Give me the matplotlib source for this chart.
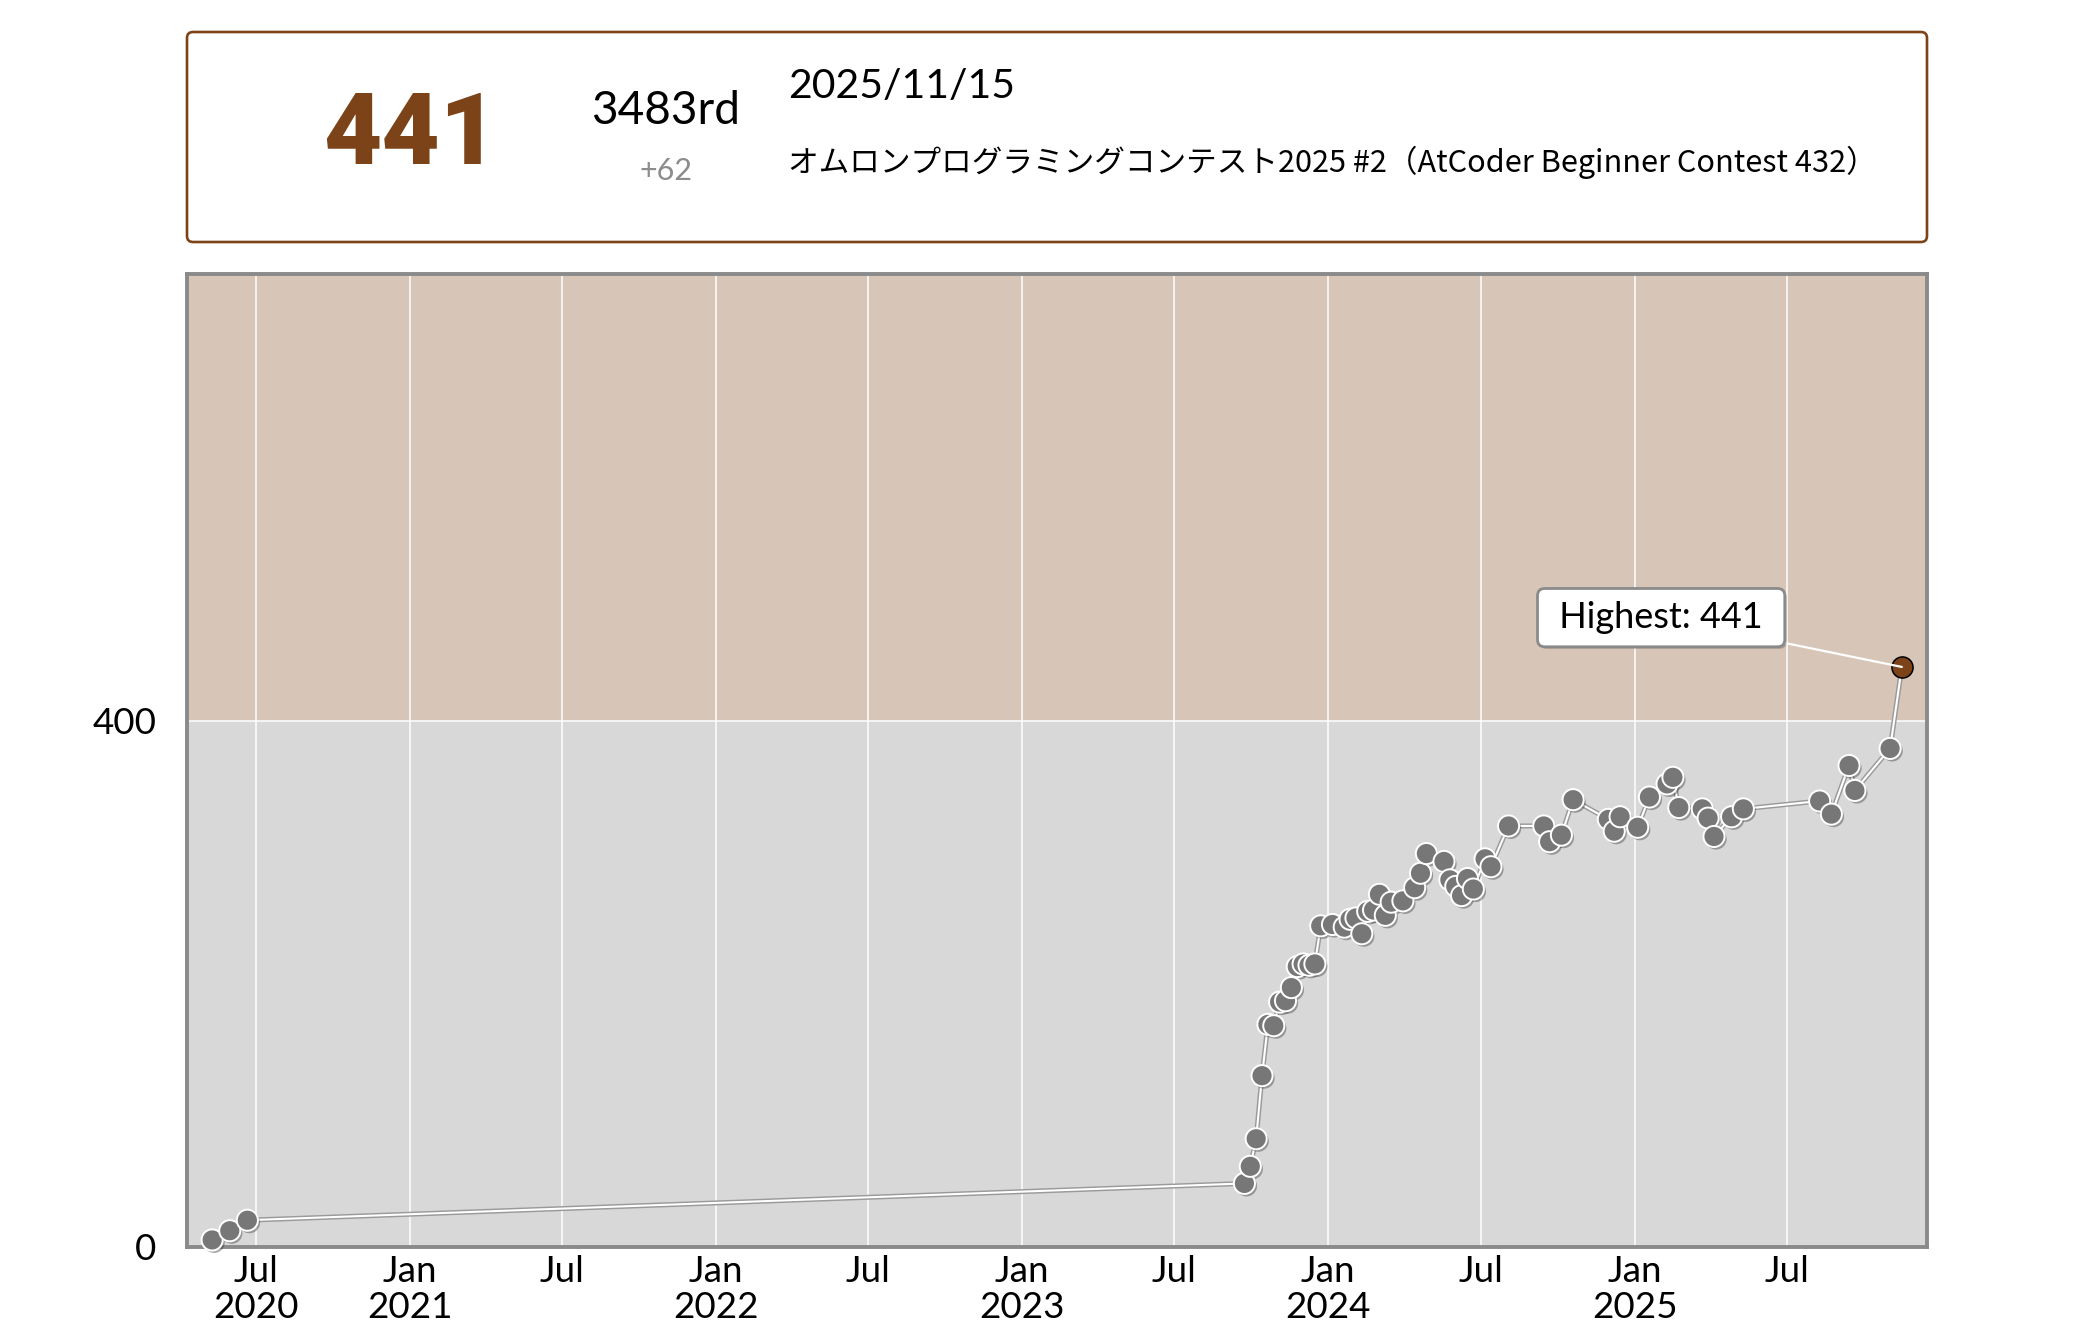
import matplotlib
matplotlib.use('Agg')
import matplotlib.pyplot as plt
import matplotlib.patheffects as pe
from matplotlib.patches import FancyBboxPatch
from matplotlib.transforms import IdentityTransform
import datetime as dt

# ---------------- data ----------------
contest_dates = [
    '2020-05-10', '2020-05-31', '2020-06-21',
    '2023-09-23', '2023-09-30', '2023-10-07', '2023-10-14', '2023-10-21', '2023-10-28',
    '2023-11-04', '2023-11-11', '2023-11-18', '2023-11-25', '2023-12-02', '2023-12-09',
    '2023-12-16', '2023-12-23', '2024-01-06', '2024-01-20', '2024-01-27', '2024-02-03',
    '2024-02-10', '2024-02-17', '2024-02-24', '2024-03-02', '2024-03-09', '2024-03-16',
    '2024-03-30', '2024-04-13', '2024-04-20', '2024-04-27', '2024-05-18', '2024-05-25',
    '2024-06-01', '2024-06-08', '2024-06-15', '2024-06-22', '2024-07-06', '2024-07-13',
    '2024-08-03', '2024-09-14', '2024-09-21', '2024-10-05', '2024-10-19', '2024-11-30',
    '2024-12-07', '2024-12-14', '2025-01-04', '2025-01-18', '2025-02-08', '2025-02-15',
    '2025-02-22', '2025-03-22', '2025-03-29', '2025-04-05', '2025-04-26', '2025-05-10',
    '2025-08-09', '2025-08-23', '2025-09-13', '2025-09-20', '2025-11-01', '2025-11-15',
]
ratings = [
    5, 12, 20,
    48, 61, 82, 130, 169, 168,
    186, 187, 197, 213, 215, 214,
    215, 244, 245, 243, 249, 250,
    238, 255, 256, 268, 252, 262,
    263, 273, 284, 299, 293, 279,
    274, 267, 280, 272, 295, 289,
    320, 320, 308, 313, 340, 325,
    316, 327, 319, 342, 352, 357,
    334, 333, 326, 312, 327, 333,
    339, 329, 366, 347, 379, 441,
]
x_tick_dates = ['2020-07-01', '2021-01-01', '2021-07-01', '2022-01-01', '2022-07-01',
                '2023-01-01', '2023-07-01', '2024-01-01', '2024-07-01', '2025-01-01',
                '2025-07-01']
x_tick_labels = ['Jul\n2020', 'Jan\n2021', 'Jul', 'Jan\n2022', 'Jul', 'Jan\n2023', 'Jul',
                 'Jan\n2024', 'Jul', 'Jan\n2025', 'Jul']
y_ticks = [0, 400]
y_tick_labels = ['0', '400']
band_edges = [0, 400, 800]
band_colors = ['#D8D8D8', '#D7C6B7']
y_top = 740

current_rating = '441'
rank_text = '3483rd'
diff_text = '+62'
date_text = '2025/11/15'
contest_name = 'オムロンプログラミングコンテスト2025 #2（AtCoder Beginner Contest 432）'
highest_label = 'Highest: 441'

BROWN = '#7C4318'

# ---------------- figure ----------------
W, H = 2094, 1332
fig = plt.figure(figsize=(W / 100, H / 100), dpi=100)
fig.patch.set_facecolor('white')
plt.rcParams['font.family'] = ['Lato', 'DejaVu Sans']

# header box (pixel coordinates)
hx0, hy0, hx1, hy1 = 187, 32, 1927, 242
hdr = FancyBboxPatch((hx0, H - hy1), hx1 - hx0, hy1 - hy0,
                     boxstyle='round,pad=0,rounding_size=6',
                     transform=IdentityTransform(), facecolor='white',
                     edgecolor=BROWN, linewidth=1.9)
fig.add_artist(hdr)

def ftxt(x, y, s, **kw):
    return fig.text(x / W, 1 - y / H, s, **kw)

big_t = ftxt(411, 136, current_rating, color=BROWN, fontsize=78, fontweight='black',
             family=['Roboto', 'DejaVu Sans'], ha='center', va='center')
ftxt(666, 111, rank_text, color='black', fontsize=33, ha='center', va='center')
ftxt(666, 171, diff_text, color='#8C8C8C', fontsize=22, ha='center', va='center')
ftxt(788, 86, date_text, color='black', fontsize=29.5, ha='left', va='center')
name_t = ftxt(788, 162, contest_name, color='black', fontsize=22, ha='left', va='center',
              family=['Noto Sans CJK JP', 'DejaVu Sans'])

# ---------------- chart ----------------
top_px, bot_px = 274, 1246.5
ax = fig.add_axes([hx0 / W, 1 - bot_px / H, (hx1 - hx0) / W, (bot_px - top_px) / H])
ax.set_facecolor('none')

dates = [dt.datetime.strptime(d, '%Y-%m-%d') for d in contest_dates]
ax.set_xlim(dates[0] - dt.timedelta(days=30), dates[-1] + dt.timedelta(days=30))
ax.set_ylim(0, y_top)

for lo, hi, c in zip(band_edges[:-1], band_edges[1:], band_colors):
    ax.axhspan(lo, hi, color=c, zorder=0, lw=0)

tick_dates = [dt.datetime.strptime(d, '%Y-%m-%d') for d in x_tick_dates]
for td in tick_dates:
    ax.axvline(td, color='white', lw=1.1, zorder=1)
ax.axhline(400, color='white', lw=1.1, zorder=1)

ax.set_xticks(tick_dates)
ax.set_xticklabels(x_tick_labels, fontsize=26.5, linespacing=1.1)
ax.set_yticks(y_ticks)
ax.set_yticklabels(y_tick_labels, fontsize=26.5)
ax.tick_params(axis='x', length=0, pad=6)
ax.tick_params(axis='y', length=0, pad=22)
for sp in ax.spines.values():
    sp.set_color('#8A8A8A')
    sp.set_linewidth(2.8)
    sp.set_zorder(3)

# line (gray underlay + white core)
ax.plot(dates, ratings, color='#9A9A9A', lw=3.6, zorder=4, solid_joinstyle='round')
ax.plot(dates, ratings, color='white', lw=1.5, zorder=5, solid_joinstyle='round')

# points
shadow = [pe.SimplePatchShadow(offset=(1.5, -1.8), shadow_rgbFace='#333333', alpha=0.4),
          pe.Normal()]
ax.plot(dates[:-1], ratings[:-1], ls='none', marker='o', markersize=15.2,
        markerfacecolor='#777777', markeredgecolor='white', markeredgewidth=1.4,
        zorder=6, clip_on=False, path_effects=shadow)
ax.plot(dates[-1:], ratings[-1:], ls='none', marker='o', markersize=15.2,
        markerfacecolor=BROWN, markeredgecolor='black', markeredgewidth=1.1,
        zorder=7, clip_on=False)

ann = ax.annotate(' ' + highest_label + ' ', xy=(dates[-1], ratings[-1]),
                  xytext=(-173.3, 35.5), textcoords='offset points',
                  ha='center', va='center', fontsize=26, color='black', zorder=8,
                  bbox=dict(boxstyle='round,pad=0.35,rounding_size=0.2', facecolor='white',
                            edgecolor='#8A8A8A', linewidth=2.0),
                  arrowprops=dict(arrowstyle='-', color='white', lw=1.6,
                                  shrinkA=0, shrinkB=0))
ann.get_bbox_patch().set_path_effects(
    [pe.SimplePatchShadow(offset=(1.5, -1.5), shadow_rgbFace='#333333', alpha=0.25),
     pe.Normal()])

# fit header texts to reference widths
fig.canvas.draw()
r = fig.canvas.get_renderer()
bb = name_t.get_window_extent(r)
name_t.set_fontsize(22 * 1088 / bb.width)
bb = big_t.get_window_extent(r)
big_t.set_fontsize(78 * min(1.0, 175 / bb.width))

fig.savefig('out.png', dpi=100)
